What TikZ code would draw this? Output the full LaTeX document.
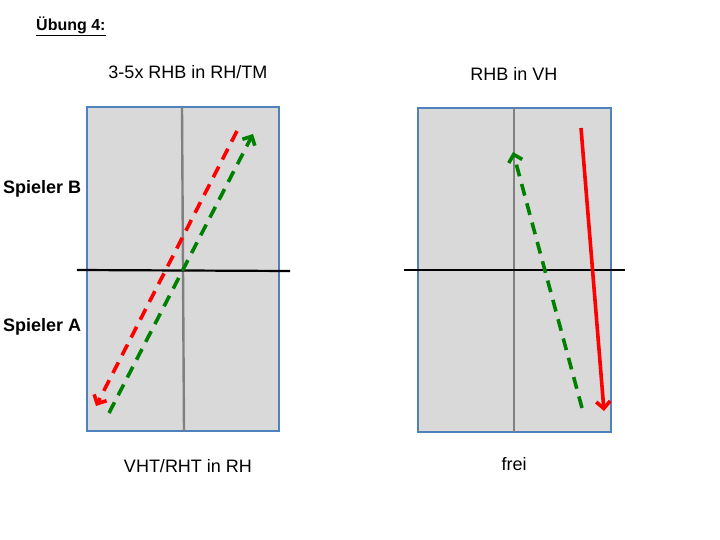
\documentclass[tikz,border=0pt]{standalone}
\usepackage{fontspec}
\setmainfont{Liberation Sans}
\usepackage{xcolor}
\usetikzlibrary{arrows.meta}
\definecolor{feld}{RGB}{217,217,217}
\definecolor{rand}{RGB}{79,129,189}
\definecolor{gruen}{RGB}{0,128,0}
\tikzset{
  platte/.style={draw=rand, fill=feld, line width=2pt},
  mitte/.style={draw=gray, line width=2.4pt},
  netz/.style={draw=black, line width=2.2pt},
  ball/.style={line width=3.6pt, -{Straight Barb[length=7pt,width=14pt]}},
  gestr/.style={dash pattern=on 12pt off 8pt},
  txt/.style={font=\fontsize{18}{21}\selectfont, inner sep=0pt}
}
\begin{document}
\begin{tikzpicture}[x=1pt, y=-1pt]
\useasboundingbox (0,0) rectangle (720,540);
\node[txt, anchor=west, font=\bfseries\fontsize{16}{19}\selectfont] (titel) at (36,26) {\underline{Übung 4:}};
\node[txt] (ueberL) at (188,72) {3-5x RHB in RH/TM};
\node[txt] (ueberR) at (514,74) {RHB in VH};
\node[txt, anchor=west, font=\bfseries\fontsize{18}{21}\selectfont] (spB) at (3,189) {Spieler B};
\node[txt, anchor=west, font=\bfseries\fontsize{18}{21}\selectfont] (spA) at (3,327) {Spieler A};
\node[txt] (untenL) at (188,466) {VHT/RHT in RH};
\node[txt] (untenR) at (514,464) {frei};
% Platte links
\draw[platte] (87,107) rectangle (279,431);
\draw[mitte] (182,107) -- (184,431);
\draw[netz] (77,270) -- (290,271);
% Platte rechts
\draw[platte] (418,108) rectangle (611,432);
\draw[mitte] (514,108) -- (514,432);
\draw[netz] (404,270) -- (625,270);
% Baelle
\coordinate (r1a) at (237,131);
\coordinate (r1b) at (96,406);
\coordinate (g1a) at (109,413);
\coordinate (g1b) at (253,134);
\coordinate (g2a) at (582,408);
\coordinate (g2b) at (513,152);
\coordinate (r2a) at (581,128);
\coordinate (r2b) at (604,411);
\draw[ball, gestr, red] (r1a) -- (r1b);
\draw[ball, gestr, gruen] (g1a) -- (g1b);
\draw[ball, gestr, gruen] (g2a) -- (g2b);
\draw[ball, red] (r2a) -- (r2b);
\end{tikzpicture}
\end{document}
